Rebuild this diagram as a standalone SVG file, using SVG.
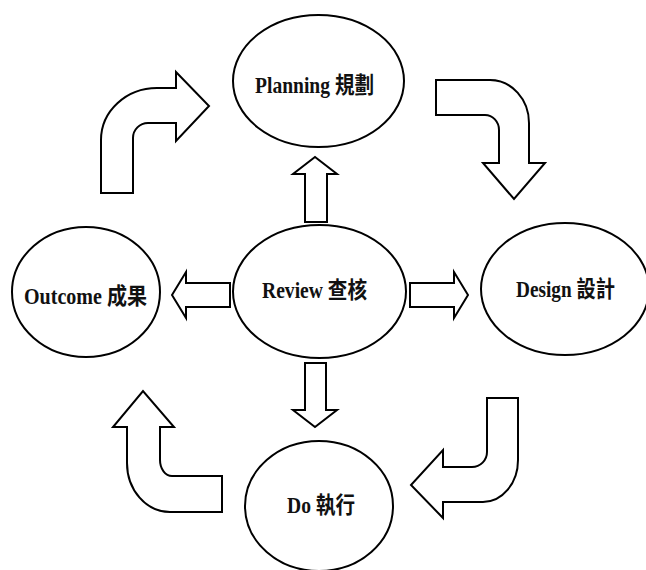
<svg xmlns="http://www.w3.org/2000/svg" width="646" height="570" viewBox="0 0 646 570">
  <style>
    .node { fill: #ffffff; stroke: #000000; stroke-width: 2; }
    .arrow { fill: #ffffff; stroke: #000000; stroke-width: 2; stroke-linejoin: miter; }
    .label { font-family: "Liberation Serif", "Noto Sans CJK TC", serif; font-weight: bold; font-size: 22.5px; fill: #111111; text-anchor: middle; }
  </style>
  <rect x="0" y="0" width="646" height="570" fill="#ffffff"/>

  <!-- cycle and hub arrows -->
  <g id="connectors">
    <!-- Outcome to Planning -->
    <path class="arrow" d="M 101 193 L 101 140 A 56 52 0 0 1 157 88 L 176 88 L 176 72 L 209 106 L 176 141 L 176 123 L 148 123 A 15 15 0 0 0 133 138 L 133 193 Z"/>
    <!-- Planning to Design -->
    <path class="arrow" d="M 436 80 L 490 80 A 39 43 0 0 1 529 123 L 529 163 L 545 163 L 514 199 L 483 163 L 499 163 L 499 130 A 14 15 0 0 0 485 115 L 436 115 Z"/>
    <!-- Design to Do -->
    <path class="arrow" d="M 487 398 L 518 398 L 518 460 A 35 42 0 0 1 483 502 L 443 502 L 443 518 L 411 485 L 443 450 L 443 467 L 472 467 A 15 15 0 0 0 487 452 Z"/>
    <!-- Do to Outcome -->
    <path class="arrow" d="M 222 512 L 170 512 A 43 49 0 0 1 127 463 L 127 427 L 113 427 L 143 391 L 174 427 L 160 427 L 160 460 A 12 16 0 0 0 172 476 L 222 476 Z"/>
    <!-- Review to Planning -->
    <path class="arrow" d="M 305 222 L 305 174 L 293 174 L 315 157 L 337 174 L 327 174 L 327 222 Z"/>
    <!-- Review to Do -->
    <path class="arrow" d="M 305 363 L 305 410 L 293 410 L 315 427 L 337 410 L 326 410 L 326 363 Z"/>
    <!-- Review to Outcome -->
    <path class="arrow" d="M 230 283 L 186 283 L 186 272 L 172 295 L 186 318 L 186 307 L 230 307 Z"/>
    <!-- Review to Design -->
    <path class="arrow" d="M 410 283 L 454 283 L 454 272 L 468 295 L 454 318 L 454 307 L 410 307 Z"/>
  </g>

  <g id="planning">
    <ellipse class="node" cx="318.5" cy="81" rx="85.5" ry="66"/>
    <text class="label" x="314.5" y="93" textLength="119" lengthAdjust="spacingAndGlyphs">Planning 規劃</text>
  </g>

  <g id="review">
    <ellipse class="node" cx="319.5" cy="291.5" rx="86.5" ry="66.5"/>
    <text class="label" x="314.5" y="298" textLength="105" lengthAdjust="spacingAndGlyphs">Review 查核</text>
  </g>

  <g id="outcome">
    <ellipse class="node" cx="86" cy="292" rx="74" ry="65"/>
    <text class="label" x="85.5" y="304" textLength="123" lengthAdjust="spacingAndGlyphs">Outcome 成果</text>
  </g>

  <g id="design">
    <ellipse class="node" cx="565" cy="289" rx="84" ry="66"/>
    <text class="label" x="565.5" y="297" textLength="99" lengthAdjust="spacingAndGlyphs">Design 設計</text>
  </g>

  <g id="do">
    <ellipse class="node" cx="319" cy="506" rx="74" ry="65"/>
    <text class="label" x="321" y="513" textLength="68" lengthAdjust="spacingAndGlyphs">Do 執行</text>
  </g>
</svg>
